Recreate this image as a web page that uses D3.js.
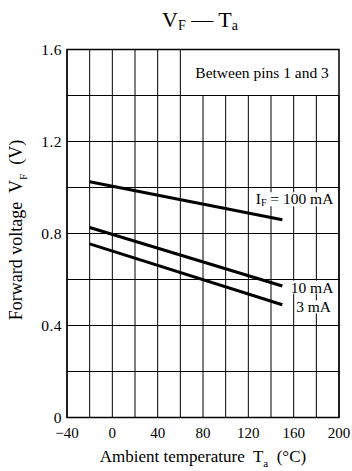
<!DOCTYPE html>
<html>
<head>
<meta charset="utf-8">
<script src="https://cdn.jsdelivr.net/npm/d3@7"></script>
<style>
  body { margin: 0; background: #fff; }
  svg { display: block; font-family: "Liberation Serif", "Times New Roman", serif; }
  text { white-space: pre; }
</style>
</head>
<body>
<div id="chart"></div>
<script>
// temperature (°C) vs forward voltage (V), straight characteristic lines
const temps = [-20, 150];
const vf100mA = [1.025, 0.86];
const vf10mA = [0.826, 0.572];
const vf3mA = [0.755, 0.49];

const xTicks = [-40, 0, 40, 80, 120, 160, 200];
const yTicks = [0, 0.4, 0.8, 1.2, 1.6];
const xGrid = [-40, -20, 0, 20, 40, 60, 80, 100, 120, 140, 160, 180, 200];
const yGrid = [0, 0.2, 0.4, 0.6, 0.8, 1.0, 1.2, 1.4, 1.6];

const series = [
    {name: "100mA", values: vf100mA},
    {name: "10mA", values: vf10mA},
    {name: "3mA", values: vf3mA}
];

function main() {
    const svgWidth = 352;
    const svgHeight = 471;
    const margin = {top: 49.5, right: 13, bottom: 53.5, left: 67};
    const width = svgWidth - margin.left - margin.right;
    const height = svgHeight - margin.top - margin.bottom;

    const svg = d3.select('#chart').append('svg')
        .attr('width', svgWidth)
        .attr('height', svgHeight);

    const g = svg.append('g')
        .attr('transform', `translate(${margin.left},${margin.top})`);

    const x = d3.scaleLinear().domain([-40, 200]).range([0, width]);
    const y = d3.scaleLinear().domain([0, 1.6]).range([height, 0]);

    // grid
    g.selectAll('.vgrid')
        .data(xGrid)
        .enter()
        .append('line')
        .attr('x1', d => x(d))
        .attr('x2', d => x(d))
        .attr('y1', y(0))
        .attr('y2', d => d <= 60 ? y(1.6) : y(1.4))
        .attr('stroke', '#000')
        .attr('stroke-width', 1);

    g.selectAll('.hgrid')
        .data(yGrid)
        .enter()
        .append('line')
        .attr('x1', 0)
        .attr('x2', width)
        .attr('y1', d => y(d))
        .attr('y2', d => y(d))
        .attr('stroke', '#000')
        .attr('stroke-width', 1);

    g.append('rect')
        .attr('x', 0)
        .attr('y', 0)
        .attr('width', width)
        .attr('height', height)
        .attr('fill', 'none')
        .attr('stroke', '#000')
        .attr('stroke-width', 1.5);

    // curve labels with white backing
    const labels = [
        {text: ['I', 'F', ' = 100 mA'], x: 195, y: 0.927},
        {text: ['10 mA'], x: 195, y: 0.543},
        {text: ['3 mA'], x: 193, y: 0.457}
    ];

    labels.forEach(l => {
        const bg = g.append('rect').attr('fill', '#fff');
        const t = g.append('text')
            .attr('x', x(l.x))
            .attr('y', y(l.y))
            .attr('text-anchor', 'end')
            .style('font-size', '15.5px');
        if (l.text.length === 3) {
            t.append('tspan').text(l.text[0]);
            t.append('tspan').attr('dy', 2).style('font-size', '10px').text(l.text[1]);
            t.append('tspan').attr('dy', -2).text(l.text[2]);
        } else {
            t.text(l.text[0]);
        }
        const b = t.node().getBBox();
        bg.attr('x', b.x - 1).attr('y', b.y + 2).attr('width', b.width + 2).attr('height', b.height - 4);
    });

    const line = d3.line()
        .x((d, i) => x(temps[i]))
        .y(d => y(d));

    g.selectAll('.curve')
        .data(series)
        .enter()
        .append('path')
        .attr('d', d => line(d.values))
        .attr('fill', 'none')
        .attr('stroke', '#000')
        .attr('stroke-width', 3);

    g.append('text')
        .attr('x', x(191))
        .attr('y', y(1.5) + 5)
        .attr('text-anchor', 'end')
        .style('font-size', '15.5px')
        .text('Between pins 1 and 3');

    // axes tick labels
    g.selectAll('.xtick')
        .data(xTicks)
        .enter()
        .append('text')
        .attr('x', d => x(d))
        .attr('y', height + 20)
        .attr('text-anchor', 'middle')
        .style('font-size', '15px')
        .text(d => d < 0 ? '\u2212' + Math.abs(d) : d);

    g.selectAll('.ytick')
        .data(yTicks)
        .enter()
        .append('text')
        .attr('x', -5)
        .attr('y', d => y(d) + 5)
        .attr('text-anchor', 'end')
        .style('font-size', '15.5px')
        .style('letter-spacing', '0.5px')
        .text(d => d === 0 ? '0' : d3.format('.1f')(d));

    // title
    const title = svg.append('text')
        .attr('x', 200)
        .attr('y', 27)
        .attr('text-anchor', 'middle')
        .style('font-size', '22px');
    title.append('tspan').text('V');
    title.append('tspan').attr('dy', 3).style('font-size', '14px').text('F');
    title.append('tspan').attr('dy', -3).text(' \u2014 T');
    title.append('tspan').attr('dy', 3).style('font-size', '14px').text('a');

    // x axis title
    const xt = svg.append('text')
        .attr('x', 203)
        .attr('y', 462)
        .attr('text-anchor', 'middle')
        .style('font-size', '17px');
    xt.append('tspan').text('Ambient temperature  T');
    xt.append('tspan').attr('dy', 5).style('font-size', '11px').text('a');
    xt.append('tspan').attr('dy', -5).text('  (\u00B0C)');

    // y axis title
    const yt = svg.append('text')
        .attr('transform', 'translate(22,230) rotate(-90)')
        .attr('text-anchor', 'middle')
        .style('font-size', '18px');
    yt.append('tspan').text('Forward voltage  V');
    yt.append('tspan').attr('dy', 5).style('font-size', '11px').text('F');
    yt.append('tspan').attr('dy', -5).text('  (V)');
}

main();
</script>
</body>
</html>
